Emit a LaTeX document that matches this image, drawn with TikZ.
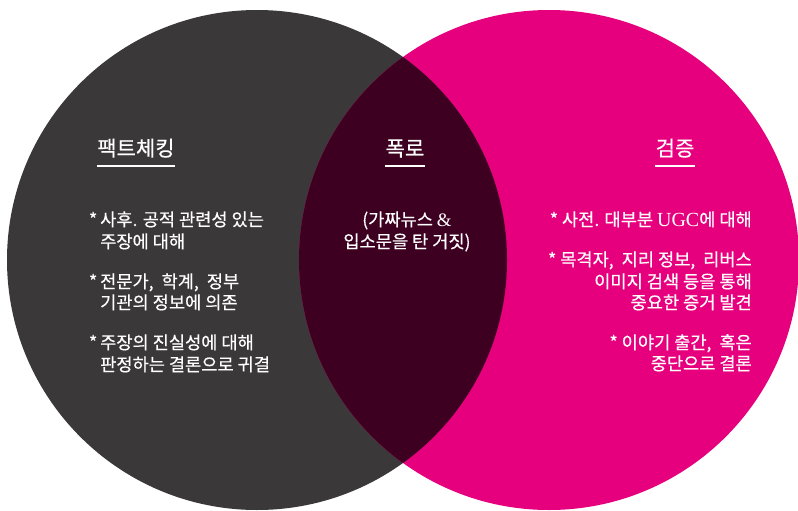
\documentclass[tikz,border=0pt]{standalone}
\usepackage{fontspec}
\setmainfont{Noto Sans CJK KR}[BoldFont={Noto Sans CJK KR},BoldFeatures={FakeBold=0.5}]
\newfontfamily\latserif{Liberation Serif}
\definecolor{leftgray}{HTML}{3A3839}
\definecolor{rightmag}{HTML}{E6007E}
\definecolor{midmaroon}{HTML}{3D0020}
\newcommand{\cma}{,\kern4pt}
\begin{document}
\begin{tikzpicture}[x=1pt,y=-1pt,
  every node/.style={inner sep=0pt,text=white},
  body/.style={font=\fontsize{17.6}{22}\selectfont\bfseries},
  ttl/.style={font=\fontsize{21}{24}\selectfont\bfseries},
  uline/.style={draw=white,line width=1.4pt}]
\useasboundingbox (0,0) rectangle (798,511);
\fill[leftgray] (257,260) circle (250);
\fill[rightmag] (549,260) circle (250);
\begin{scope}
  \clip (257,260) circle (250);
  \fill[midmaroon] (549,260) circle (250);
\end{scope}
% titles
\node[ttl,anchor=base] (t1) at (136,156) {팩트체킹};
\node[ttl,anchor=base] (t2) at (405,156) {폭로};
\node[ttl,anchor=base] (t3) at (675,156) {검증};
\foreach \t in {t1,t2,t3}
  \draw[uline] ([yshift=-10pt]\t.base west) -- ([yshift=-10pt]\t.base east);
% left bullets
\node[body,anchor=base west] (l1) at (100,226) {\llap{*\,}사후. 공적 관련성 있는};
\node[body,anchor=base west] (l2) at (100,248) {주장에 대해};
\node[body,anchor=base west] (l3) at (100,288) {\llap{*\,}전문가\cma{} 학계\cma{} 정부};
\node[body,anchor=base west] (l4) at (100,309) {기관의 정보에 의존};
\node[body,anchor=base west] (l5) at (100,349) {\llap{*\,}주장의 진실성에 대해};
\node[body,anchor=base west] (l6) at (100,371) {판정하는 결론으로 귀결};
% middle
\node[body,anchor=base] (m1) at (407,226) {(가짜뉴스 {\latserif\mdseries\fontsize{19}{22}\selectfont\&}};
\node[body,anchor=base] (m2) at (407,248) {입소문을 탄 거짓)};
% right bullets
\node[body,anchor=base east] (r1) at (752,226) {* 사전. 대부분 {\latserif\mdseries\fontsize{20}{22}\selectfont UGC}에 대해};
\node[body,anchor=base east] (r2) at (752,266) {* 목격자\cma{} 지리 정보\cma{} 리버스};
\node[body,anchor=base east] (r3) at (752,288) {이미지 검색 등을 통해};
\node[body,anchor=base east] (r4) at (752,309) {중요한 증거 발견};
\node[body,anchor=base east] (r5) at (752,349) {* 이야기 출간\cma{} 혹은};
\node[body,anchor=base east] (r6) at (752,370) {중단으로 결론};
\end{tikzpicture}
\end{document}
